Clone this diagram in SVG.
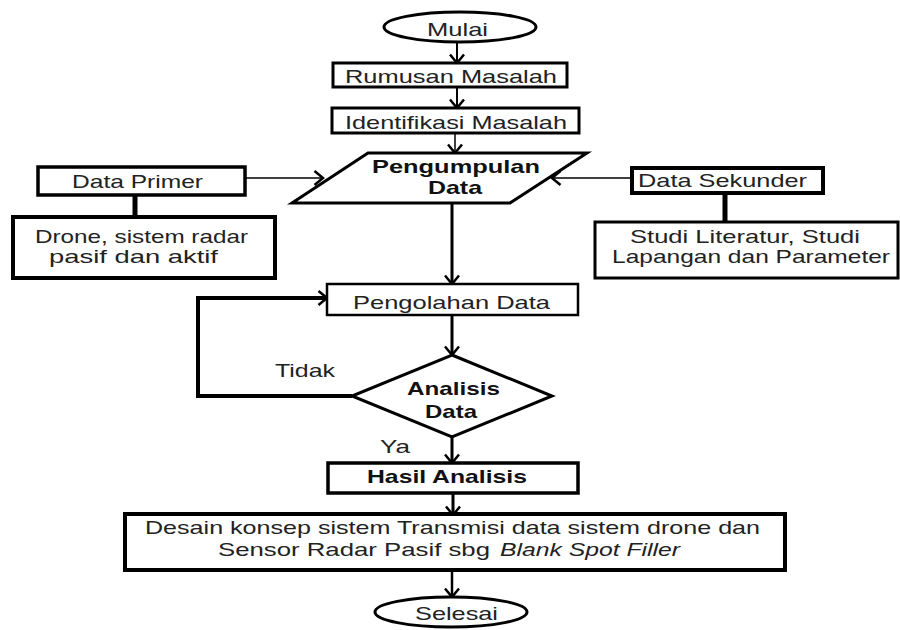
<svg xmlns="http://www.w3.org/2000/svg" width="900" height="630" viewBox="0 0 900 630">
<defs>
<marker id="arr" markerUnits="userSpaceOnUse" viewBox="-11 -9 13 18" refX="0" refY="0" markerWidth="13" markerHeight="18" orient="auto">
<path d="M-8.5,-7 L0,0 L-8.5,7" fill="none" stroke="#000" stroke-width="2.5"/>
</marker>
</defs>
<style>
.b{fill:#fff;stroke:#000;stroke-linejoin:miter}
.t{font-family:"Liberation Sans",Arial,sans-serif;font-size:19px;fill:#222}
.tb{font-family:"Liberation Sans",Arial,sans-serif;font-size:19px;font-weight:bold;fill:#111}
.c{fill:none;stroke:#000}
.a{marker-end:url(#arr)}
</style>
<rect width="900" height="630" fill="#fff"/>
<g id="connectors">
<line class="c a" x1="457" y1="42" x2="457" y2="63" stroke-width="2"/>
<line class="c a" x1="457" y1="87" x2="457" y2="108" stroke-width="2"/>
<line class="c a" x1="455" y1="133" x2="455" y2="153" stroke-width="1.5"/>
<line class="c a" x1="245" y1="178" x2="323" y2="178" stroke-width="1.5"/>
<line class="c a" x1="632" y1="178" x2="552" y2="178" stroke-width="1.5"/>
<line class="c" x1="135" y1="195" x2="135" y2="217" stroke-width="5"/>
<line class="c" x1="725" y1="193" x2="725" y2="222" stroke-width="5"/>
<line class="c a" x1="452" y1="203" x2="452" y2="284" stroke-width="3"/>
<line class="c a" x1="452" y1="315" x2="452" y2="355" stroke-width="3"/>
<polyline class="c a" points="352,396 198,396 198,298 327,298" stroke-width="4"/>
<line class="c a" x1="452" y1="437" x2="452" y2="463" stroke-width="3"/>
<line class="c a" x1="453" y1="493" x2="453" y2="515" stroke-width="3"/>
<line class="c a" x1="452" y1="570" x2="452" y2="597" stroke-width="2.5"/>
<text class="t" x="275" y="377" textLength="60" lengthAdjust="spacingAndGlyphs">Tidak</text>
<text class="t" x="380" y="453" textLength="30" lengthAdjust="spacingAndGlyphs">Ya</text>
</g>
<g id="mulai">
<ellipse class="b" cx="460" cy="27" rx="76" ry="15" stroke-width="3"/>
<text class="t" x="427" y="36" textLength="61" lengthAdjust="spacingAndGlyphs">Mulai</text>
</g>
<g id="rumusan">
<rect class="b" x="333" y="63" width="234" height="24" stroke-width="3"/>
<text class="t" x="345" y="83" font-size="20" textLength="212" lengthAdjust="spacingAndGlyphs">Rumusan Masalah</text>
</g>
<g id="identifikasi">
<rect class="b" x="332" y="108" width="247" height="25" stroke-width="3"/>
<text class="t" x="345" y="129" font-size="21" textLength="222" lengthAdjust="spacingAndGlyphs">Identifikasi Masalah</text>
</g>
<g id="pengumpulan">
<polygon class="b" points="368,153 587,153 510,203 292,203" stroke-width="3"/>
<text class="tb" x="372" y="173" textLength="168" lengthAdjust="spacingAndGlyphs">Pengumpulan</text>
<text class="tb" x="428" y="194" textLength="54" lengthAdjust="spacingAndGlyphs">Data</text>
</g>
<g id="data-primer">
<rect class="b" x="38" y="167" width="207" height="28" stroke-width="3.5"/>
<text class="t" x="72" y="188" textLength="131" lengthAdjust="spacingAndGlyphs">Data Primer</text>
</g>
<g id="drone">
<rect class="b" x="13" y="217" width="262" height="61" stroke-width="4"/>
<text class="t" x="35" y="243" textLength="213" lengthAdjust="spacingAndGlyphs">Drone, sistem radar</text>
<text class="t" x="49" y="263" textLength="169" lengthAdjust="spacingAndGlyphs">pasif dan aktif</text>
</g>
<g id="data-sekunder">
<rect class="b" x="632" y="168" width="191" height="25" stroke-width="4"/>
<text class="t" x="638" y="187" textLength="169" lengthAdjust="spacingAndGlyphs">Data Sekunder</text>
</g>
<g id="studi">
<rect class="b" x="595" y="222" width="303" height="56" stroke-width="3"/>
<text class="t" x="630" y="243" textLength="230" lengthAdjust="spacingAndGlyphs">Studi Literatur, Studi</text>
<text class="t" x="612" y="263" textLength="278" lengthAdjust="spacingAndGlyphs">Lapangan dan Parameter</text>
</g>
<g id="pengolahan">
<rect class="b" x="327" y="284" width="251" height="31" stroke-width="2.5"/>
<text class="t" x="353" y="309" textLength="197" lengthAdjust="spacingAndGlyphs">Pengolahan Data</text>
</g>
<g id="analisis">
<polygon class="b" points="452,355 552,396 452,437 352,396" stroke-width="3"/>
<text class="tb" x="407" y="395" textLength="93" lengthAdjust="spacingAndGlyphs">Analisis</text>
<text class="tb" x="425" y="418" textLength="52" lengthAdjust="spacingAndGlyphs">Data</text>
</g>
<g id="hasil">
<rect class="b" x="328" y="463" width="250" height="30" stroke-width="3.5"/>
<text class="tb" x="367" y="483" font-size="17" textLength="160" lengthAdjust="spacingAndGlyphs">Hasil Analisis</text>
</g>
<g id="desain">
<rect class="b" x="125" y="514" width="660" height="56" stroke-width="4"/>
<text class="t" x="145" y="534" textLength="615" lengthAdjust="spacingAndGlyphs">Desain konsep sistem Transmisi data sistem drone dan</text>
<text class="t" x="218" y="556" textLength="272" lengthAdjust="spacingAndGlyphs">Sensor Radar Pasif sbg</text>
<text class="t" x="500" y="556" font-style="italic" textLength="180" lengthAdjust="spacingAndGlyphs">Blank Spot Filler</text>
</g>
<g id="selesai">
<ellipse class="b" cx="451" cy="612" rx="76" ry="15" stroke-width="3"/>
<text class="t" x="415" y="620" textLength="83" lengthAdjust="spacingAndGlyphs">Selesai</text>
</g>
</svg>
